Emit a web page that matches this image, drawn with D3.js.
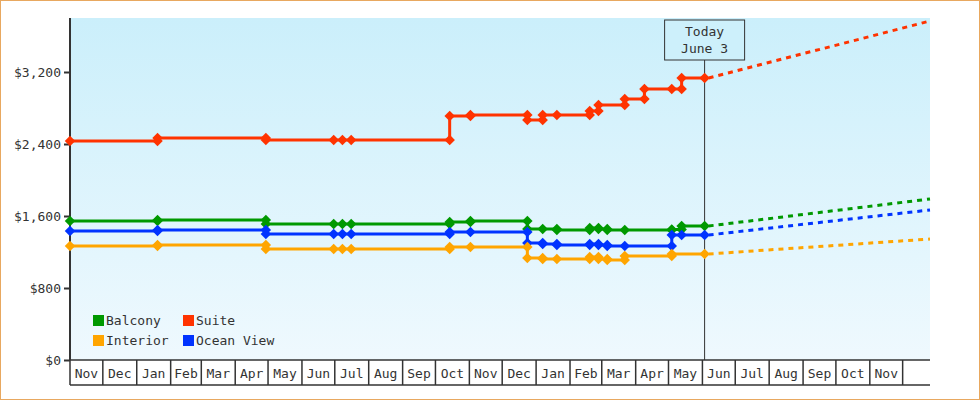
<!DOCTYPE html>
<html><head><meta charset="utf-8">
<script src="https://cdn.jsdelivr.net/npm/d3@7"></script>
<style>body{margin:0;background:#fff}svg{display:block}text{font-family:"DejaVu Sans Mono",monospace;fill:#333}</style>
</head><body><svg id="c" width="980" height="400"></svg>
<script>
const dates = ["2022-11-01","2023-01-20","2023-04-29","2023-06-30","2023-07-08","2023-07-16","2023-10-14","2023-11-02","2023-12-24","2024-01-07","2024-01-20","2024-02-19","2024-02-27","2024-03-06","2024-03-22","2024-04-09","2024-05-04","2024-05-13","2024-06-03"];
const suite   = [2433,2467,2444,2444,2444,2444,2711,2722,2667,2722,2722,2767,2833,2833,2900,3011,3011,3133,3133];
const balcony = [1544,1556,1511,1511,1511,1511,1533,1544,1456,1456,1444,1467,1456,1444,1444,1444,1450,1489,1489];
const ocean   = [1433,1444,1400,1400,1400,1400,1422,1422,1300,1289,1278,1289,1278,1267,1267,1267,1389,1389,1389];
const interior= [1267,1278,1233,1233,1233,1233,1256,1256,1133,1122,1122,1144,1122,1111,1156,1156,1178,1178,1178];
// includes: which points are recorded observations per series (indices of dates)
const suiteIdx = [0,1,2,3,4,5,6,7,8,9,10,11,12,14,15,16,17,18];
const otherIdx = [0,1,2,3,4,5,6,7,8,9,10,11,12,13,14,16,17,18];
const interiorIdx = [0,1,2,3,4,5,6,7,8,9,10,11,12,13,14,16,18];
const forecastEnd = "2024-12-26";
const forecast = {Suite:3767, Balcony:1789, "Ocean View":1667, Interior:1344};
const yTicks = [0,800,1600,2400,3200];
const today = "2024-06-03";
const todayLabel = ["Today","June 3"];

const series = [
 {name:"Suite", vals:suite, idx:suiteIdx, color:"#ff3300"},
 {name:"Balcony", vals:balcony, idx:otherIdx, color:"#009900"},
 {name:"Ocean View", vals:ocean, idx:otherIdx, color:"#0033ff"},
 {name:"Interior", vals:interior, idx:interiorIdx, color:"#ffa500"}
];
const P = d3.timeParse("%Y-%m-%d");
const svg = d3.select("#c");
const L=70,R=930,T=18,B=360;
const x = d3.scaleTime().domain([P("2022-11-01"),P(forecastEnd)]).range([L,R]);
const y = d3.scaleLinear().domain([0,3800]).range([B,T]);

svg.append("rect").attr("x",0.5).attr("y",0.5).attr("width",979).attr("height",399).attr("fill","#fff").attr("stroke","#e8a860");
const g = svg.append("defs").append("linearGradient").attr("id","bg").attr("x1",0).attr("x2",0).attr("y1",0).attr("y2",1);
g.append("stop").attr("offset","0").attr("stop-color","#cbeffb");
g.append("stop").attr("offset","1").attr("stop-color","#eff9fe");
svg.append("rect").attr("x",L).attr("y",T).attr("width",R-L).attr("height",B-T).attr("fill","url(#bg)");

// y axis
const ya = svg.append("g").attr("transform",`translate(${L},0)`).call(d3.axisLeft(y).tickValues(yTicks).tickSize(6).tickFormat(d=>"$"+d3.format(",")(d)));
ya.select(".domain").attr("stroke","#333").attr("stroke-width",2).attr("d",`M0,${T}V${B}`);
ya.selectAll(".tick line").attr("stroke","#333").attr("stroke-width",2);
ya.selectAll("text").attr("font-size",13).attr("fill","#333").attr("font-family","DejaVu Sans Mono");

// x axis cells
const months = d3.timeMonth.range(P("2022-11-01"), P(forecastEnd));
const xa = svg.append("g");
months.forEach((m,i)=>{
  const x0=x(m), x1=Math.min(R, x(d3.timeMonth.offset(m,1)));
  xa.append("line").attr("x1",x0).attr("x2",x0).attr("y1",B).attr("y2",385).attr("stroke","#333").attr("stroke-width",1.5);
  if (x1-x0>30) xa.append("text").attr("x",(x0+x1)/2).attr("y",378).attr("text-anchor","middle").attr("font-size",13).text(d3.timeFormat("%b")(m));
});
xa.append("line").attr("x1",L).attr("x2",R).attr("y1",B).attr("y2",B).attr("stroke","#333").attr("stroke-width",1.5);
xa.append("line").attr("x1",L).attr("x2",R).attr("y1",385).attr("y2",385).attr("stroke","#333").attr("stroke-width",1.5);

// today
const tx = x(P(today));
svg.append("line").attr("x1",tx).attr("x2",tx).attr("y1",60).attr("y2",B).attr("stroke","#333");
svg.append("rect").attr("x",tx-40).attr("y",20).attr("width",80).attr("height",40).attr("fill","#cdf0fb").attr("stroke","#333");
todayLabel.forEach((t,i)=>svg.append("text").attr("x",tx).attr("y",36+i*17).attr("text-anchor","middle").attr("font-size",13).text(t));

const diamond = d3.symbol().type(d3.symbolDiamond2).size(70);
series.forEach(s=>{
  const pts = s.idx.map(i=>({d:P(dates[i]),v:s.vals[i]}));
  svg.append("path").datum(pts).attr("fill","none").attr("stroke",s.color).attr("stroke-width",3)
    .attr("d",d3.line().x(p=>x(p.d)).y(p=>y(p.v)).curve(d3.curveStepAfter));
  const last = pts[pts.length-1];
  svg.append("path").attr("fill","none").attr("stroke",s.color).attr("stroke-width",3).attr("stroke-dasharray","5,5")
    .attr("d",d3.line()([[x(last.d)+4,y(last.v)],[x(P(forecastEnd)),y(forecast[s.name])]]));
  const marks=[];
  pts.forEach((p,i)=>{ marks.push(p); if(i>0 && pts[i-1].v!==p.v) marks.push({d:p.d,v:pts[i-1].v}); });
  svg.selectAll(null).data(marks).enter().append("path").attr("d",diamond).attr("fill",s.color)
    .attr("transform",p=>`translate(${x(p.d)},${y(p.v)})`);
});

// legend
const leg = [["Balcony","#009900",93,315],["Suite","#ff3300",183,315],["Interior","#ffa500",93,335],["Ocean View","#0033ff",183,335]];
leg.forEach(([n,c,lx,ly])=>{
  svg.append("rect").attr("x",lx).attr("y",ly).attr("width",11).attr("height",11).attr("fill",c);
  svg.append("text").attr("x",lx+13).attr("y",ly+10).attr("font-size",13).text(n);
});
</script></body></html>
